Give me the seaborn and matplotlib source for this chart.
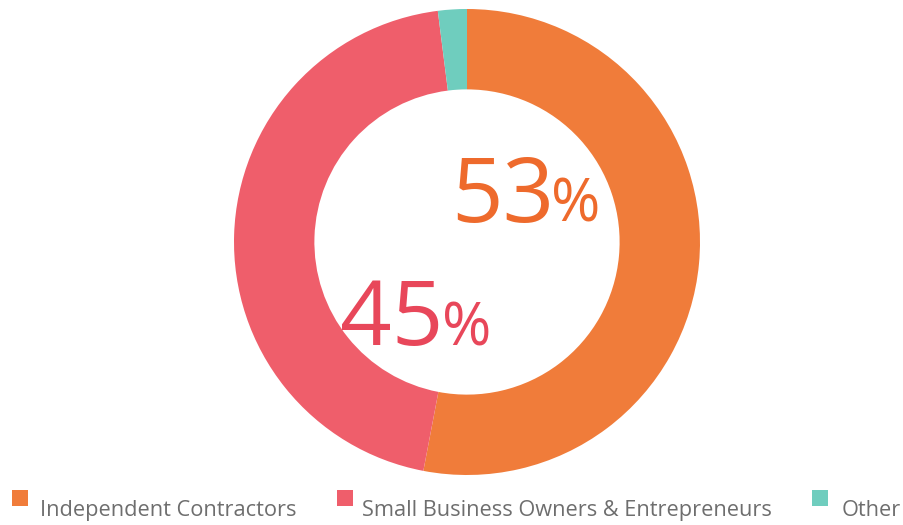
import matplotlib
matplotlib.use("Agg")
import matplotlib.pyplot as plt
import seaborn as sns
from matplotlib.patches import Rectangle

# Data
categories = ["Independent Contractors", "Small Business Owners & Entrepreneurs", "Other"]
shares = [53, 45, 2]
colors = ["#F07C3A", "#EF5E6B", "#6FCDBE"]
label_colors = ["#EE6A2C", "#E8475A"]

sns.set_style("white")
plt.rcParams['font.family'] = ['Open Sans', 'DejaVu Sans']

W, H = 904, 525
fig = plt.figure(figsize=(W / 100, H / 100), dpi=100)

# donut geometry in pixels (from top-left)
cx, cy, r = 467, 242, 233
ax = fig.add_axes([(cx - r) / W, (H - cy - r) / H, 2 * r / W, 2 * r / H])
ax.pie(shares, colors=colors, startangle=90, counterclock=False,
       wedgeprops=dict(width=0.345, linewidth=0))
ax.set_xlim(-1, 1)
ax.set_ylim(-1, 1)
ax.set_aspect("equal")
ax.axis("off")


def px(x, y):
    # pixel coords (top-left origin) -> donut data coords
    return (x - cx) / r, (cy - y) / r


# big percentage labels
for (num_x, pct_x, base_y), val, col in zip([(451, 551, 222), (340, 442, 345)],
                                            shares[:2], label_colors):
    x, y = px(num_x, base_y)
    ax.text(x, y, str(val), fontsize=65, color=col, ha="left", va="baseline")
    x, y = px(pct_x, base_y)
    ax.text(x, y, "%", fontsize=43, color=col, ha="left", va="baseline")

# legend drawn along the bottom
legend_items = [(12, 40), (337, 362), (812, 842)]
for (sq_x, tx), cat, col in zip(legend_items, categories, colors):
    fig.patches.append(Rectangle((sq_x / W, (H - 506) / H), 16 / W, 16 / H,
                                 transform=fig.transFigure, color=col, lw=0))
    fig.text(tx / W, (H - 516) / H, cat, fontsize=15.7, color="#6E6E6E",
             ha="left", va="baseline")

fig.savefig("out.png", dpi=100)
